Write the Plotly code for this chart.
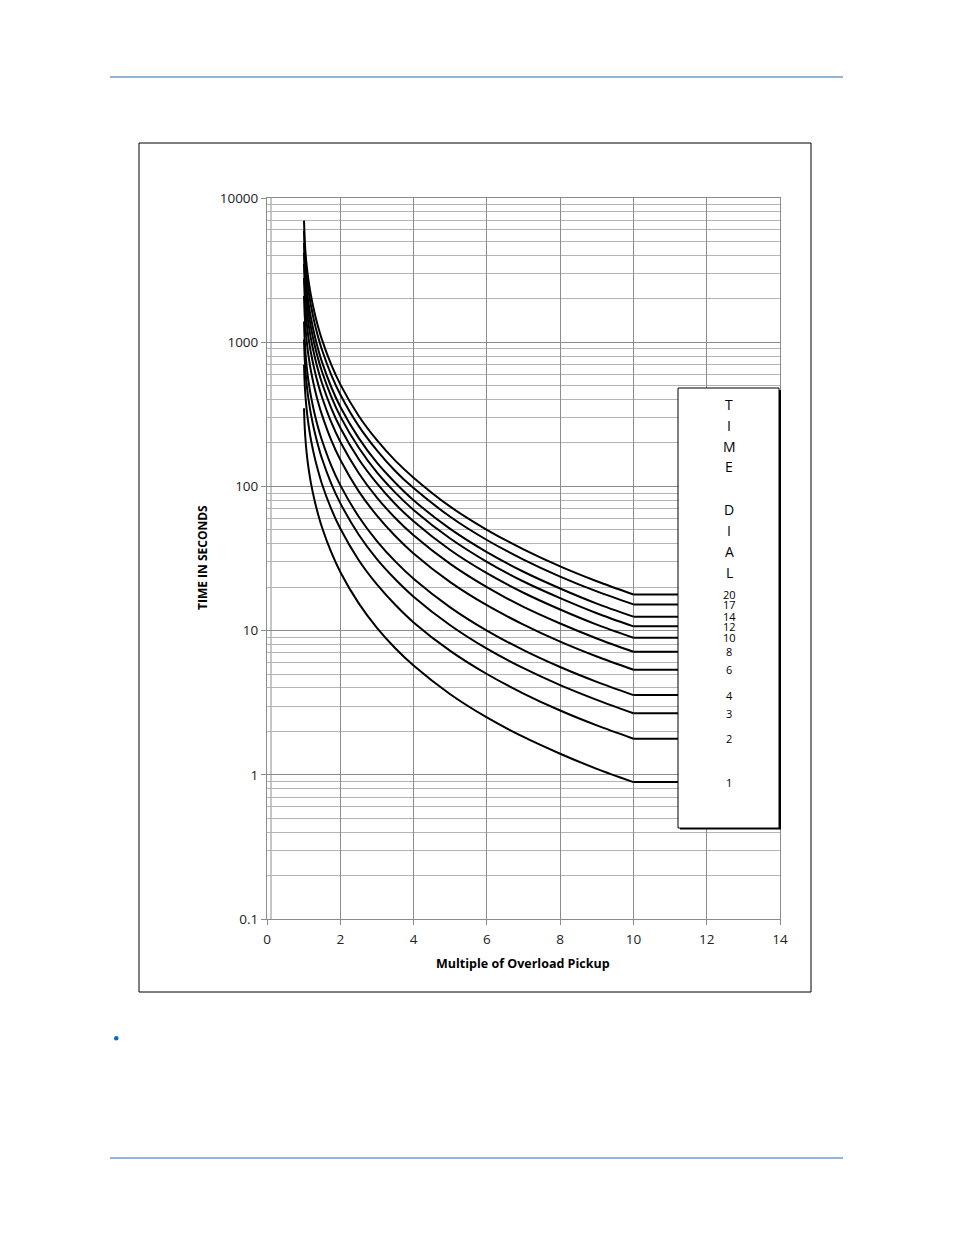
import math
import plotly.graph_objects as go

# Multiple of overload pickup where each curve is sampled
multiple = [1.01, 1.03, 1.06, 1.1, 1.15, 1.2, 1.3, 1.4, 1.5, 1.75, 2, 2.5,
            3, 3.5, 4, 5, 6, 7, 8, 9, 10]

# Time in seconds for each time dial setting
td_1 = [348, 254, 196, 155, 125, 105, 79.5, 63.3, 52.1, 35.1, 25.5, 15.5,
        10.45, 7.55, 5.73, 3.62, 2.50, 1.83, 1.40, 1.10, 0.89]
td_2 = [697, 507, 392, 311, 250, 210, 159, 127, 104, 70.1, 51.0, 30.9,
        20.9, 15.1, 11.4, 7.24, 5.00, 3.66, 2.79, 2.20, 1.78]
td_3 = [1045, 761, 587, 466, 376, 316, 238, 190, 156, 105, 76.6, 46.4,
        31.3, 22.7, 17.2, 10.9, 7.50, 5.49, 4.19, 3.31, 2.67]
td_4 = [1393, 1014, 783, 621, 501, 421, 318, 253, 209, 140, 102, 61.9,
        41.8, 30.2, 22.9, 14.5, 10.0, 7.32, 5.59, 4.41, 3.57]
td_6 = [2090, 1521, 1175, 932, 751, 631, 477, 380, 313, 210, 153, 92.8,
        62.7, 45.3, 34.3, 21.7, 15.0, 11.0, 8.38, 6.61, 5.35]
td_8 = [2786, 2028, 1566, 1242, 1002, 841, 636, 506, 417, 280, 204, 124,
        83.6, 60.4, 45.8, 29.0, 20.0, 14.6, 11.2, 8.82, 7.13]
td_10 = [3483, 2535, 1958, 1553, 1252, 1052, 795, 633, 521, 351, 255, 155,
         105, 75.5, 57.3, 36.2, 25.0, 18.3, 14.0, 11.0, 8.92]
td_12 = [4180, 3042, 2350, 1864, 1502, 1262, 954, 760, 626, 421, 306, 186,
         125, 90.6, 68.7, 43.5, 30.0, 21.9, 16.8, 13.2, 10.7]
td_14 = [4876, 3549, 2741, 2174, 1753, 1473, 1112, 886, 730, 491, 357, 217,
         146, 106, 80.2, 50.7, 35.0, 25.6, 19.6, 15.4, 12.5]
td_17 = [5921, 4310, 3329, 2640, 2128, 1788, 1351, 1076, 886, 596, 434, 263,
         178, 128, 97.3, 61.6, 42.5, 31.1, 23.7, 18.7, 15.2]
td_20 = [6966, 5070, 3916, 3106, 2504, 2104, 1589, 1266, 1043, 701, 510, 309,
         209, 151, 115, 72.4, 50.0, 36.6, 27.9, 22.0, 17.8]

dial_labels = ["1", "2", "3", "4", "6", "8", "10", "12", "14", "17", "20"]
dial_curves = [td_1, td_2, td_3, td_4, td_6, td_8, td_10, td_12, td_14, td_17, td_20]

x_ticks = [0, 2, 4, 6, 8, 10, 12, 14]
y_ticks = [0.1, 1, 10, 100, 1000, 10000]
y_tick_text = ["0.1", "1", "10", "100", "1000", "10000"]

FONT = "Open Sans"
W, H = 954, 1235
OFF = 8                           # page body margin around the figure div
L, R, T, B = 267, 780, 198, 919   # plot area in page pixels


def px(xp):
    return (xp - L) / (R - L)


def py(yp):
    return (B - yp) / (B - T)


fig = go.Figure()

for lab, vals in zip(dial_labels, dial_curves):
    fig.add_trace(go.Scatter(
        x=multiple, y=vals, mode="lines", name="TD " + lab,
        line=dict(color="black", width=2, shape="spline", smoothing=0.8),
        showlegend=False,
    ))
    # flat part past 10x pickup, runs under the time dial box
    fig.add_trace(go.Scatter(
        x=[multiple[-1], x_ticks[-1]], y=[vals[-1], vals[-1]], mode="lines",
        line=dict(color="black", width=2), showlegend=False, hoverinfo="skip",
    ))

shapes = []
# page header / footer rules
for yp in (77, 1158):
    shapes.append(dict(type="line", xref="paper", yref="paper",
                       x0=px(110), x1=px(843), y0=py(yp), y1=py(yp),
                       line=dict(color="#95B3D7", width=2), layer="above"))
# chart border
shapes.append(dict(type="rect", xref="paper", yref="paper",
                   x0=px(139), x1=px(811), y0=py(992), y1=py(143),
                   line=dict(color="black", width=1), layer="below"))
# second line next to the y axis
shapes.append(dict(type="line", xref="paper", yref="paper",
                   x0=px(271), x1=px(271), y0=0, y1=1,
                   line=dict(color="#8c8c8c", width=1), layer="below"))
# bullet
shapes.append(dict(type="circle", xref="paper", yref="paper",
                   x0=px(114), x1=px(118.5), y0=py(1040.5), y1=py(1036),
                   fillcolor="#0070C0", line=dict(width=0), layer="above"))
# time dial box with shadow
shapes.append(dict(type="rect", xref="paper", yref="paper",
                   x0=px(680), x1=px(781), y0=py(829.5), y1=py(390),
                   fillcolor="black", line=dict(width=0), layer="above"))
shapes.append(dict(type="rect", xref="paper", yref="paper",
                   x0=px(678), x1=px(779), y0=py(828), y1=py(388),
                   fillcolor="white", line=dict(color="black", width=1),
                   layer="above"))

annotations = []
letters = ["T", "I", "M", "E", "", "D", "I", "A", "L"]
for i, ch in enumerate(letters):
    if ch:
        annotations.append(dict(xref="paper", yref="paper", x=px(729),
                                y=py(404 + 21 * i), text=ch, showarrow=False,
                                xanchor="center", yanchor="middle",
                                font=dict(family=FONT, size=14, color="black")))
for lab, vals in zip(dial_labels, dial_curves):
    annotations.append(dict(xref="paper", yref="y", x=px(729),
                            y=math.log10(vals[-1]), text=lab, showarrow=False,
                            xanchor="center", yanchor="middle",
                            font=dict(family=FONT, size=11, color="black")))
annotations.append(dict(xref="paper", yref="paper", x=px(202), y=py(558),
                        text="<b>TIME IN SECONDS</b>", textangle=-90,
                        showarrow=False, xanchor="center", yanchor="middle",
                        font=dict(family=FONT, size=12, color="black")))
annotations.append(dict(xref="paper", yref="paper", x=px(523), y=py(963),
                        text="<b>Multiple of Overload Pickup</b>",
                        showarrow=False, xanchor="center", yanchor="middle",
                        font=dict(family=FONT, size=12.5, color="black")))

fig.update_layout(
    width=W, height=H,
    margin=dict(l=L - OFF, r=W - (R - OFF), t=T - OFF, b=H - (B - OFF), pad=0),
    paper_bgcolor="white", plot_bgcolor="white",
    font=dict(family=FONT, size=13, color="#222222"),
    shapes=shapes, annotations=annotations,
    showlegend=False,
)
fig.update_xaxes(
    range=[0, 14], tickvals=x_ticks, showgrid=True, gridcolor="#8c8c8c",
    gridwidth=1, zeroline=False, showline=True, linecolor="#8c8c8c",
    mirror=True, ticks="outside", ticklen=5, tickcolor="#8c8c8c",
    ticklabelstandoff=3,
    tickfont=dict(family=FONT, size=13.5, color="#222222"),
)
fig.update_yaxes(
    type="log", range=[-1, 4], tickvals=y_ticks, ticktext=y_tick_text,
    showgrid=True, gridcolor="#8c8c8c", gridwidth=1, zeroline=False,
    showline=True, linecolor="#8c8c8c", mirror=True, ticks="outside",
    ticklen=5, tickcolor="#8c8c8c",
    tickfont=dict(family=FONT, size=13.5, color="#222222"),
    minor=dict(showgrid=True, gridcolor="#b4b4b4", gridwidth=1, dtick="D1",
               ticks=""),
)

fig.write_html("out.html")
